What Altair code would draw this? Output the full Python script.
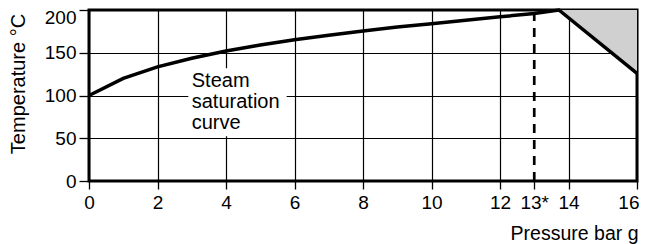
import altair as alt
import pandas as pd

# Steam saturation curve and limiting line (pressure bar g, temperature °C)
curve_p = [0, 1, 2, 3, 4, 5, 6, 7, 8, 9, 10, 11, 12, 13, 13.72, 16]
curve_t = [100, 120, 133.5, 143.6, 152, 159, 165.3, 170.5, 175.5, 180, 184, 188, 192, 196, 200, 125.8]

# Shaded region above the limiting line
shade_p = [13.72, 16]
shade_t = [200, 125.8]

# Marked pressure (dashed)
marker_p = [13]

x_ticks = [0, 2, 4, 6, 8, 10, 12, 13, 14, 16]
y_ticks = [0, 50, 100, 150, 200]

label_lines = ["Steam", "saturation", "curve"]
label_box = {"x": 2.9, "x2": 5.77, "y": 52.4, "y2": 132}
label_pos = {"x": 3.0, "y": 110}

FONT = "Liberation Sans"
W, H = 548, 171

curve_df = pd.DataFrame({"p": curve_p, "t": curve_t})
shade_df = pd.DataFrame({"p": shade_p, "t": shade_t, "top": [200] * len(shade_p)})
marker_df = pd.DataFrame({"p": marker_p, "t0": [0], "t1": [200]})
box_df = pd.DataFrame([label_box])
text_df = pd.DataFrame([{"x": label_pos["x"], "y": label_pos["y"], "txt": label_lines}])

xscale = alt.Scale(domain=[0, 16], nice=False, zero=False)
yscale = alt.Scale(domain=[0, 200], nice=False)

xaxis = alt.Axis(
    values=x_ticks,
    labelExpr="datum.value == 13 ? '13*' : datum.label",
    title="Pressure bar g",
    grid=True,
    gridColor="black",
    gridWidth=1.2,
    gridOpacity={"condition": {"test": "datum.value == 13", "value": 0}, "value": 1},
    domain=False,
    tickColor="black",
    tickWidth=1.3,
    tickSize=8,
    labelPadding=4,
    labelFont=FONT,
    labelFontSize=19,
    labelColor="black",
    labelFlush=False,
    labelOverlap=False,
    labelAlign={"condition": {"test": "datum.value == 16", "value": "right"}, "value": "center"},
    labelOffset={"condition": {"test": "datum.value == 16", "value": 2}, "value": 0},
    titleFont=FONT,
    titleFontSize=19.5,
    titleFontWeight="normal",
    titleColor="black",
    titleAlign="right",
    titleBaseline="alphabetic",
    titleX=W + 1,
    titleY=58,
)

yaxis = alt.Axis(
    values=y_ticks,
    title="Temperature °C",
    grid=True,
    gridColor="black",
    gridWidth=1.2,
    domain=False,
    tickColor="black",
    tickWidth=1.3,
    tickSize=10,
    labelPadding=3,
    labelFont=FONT,
    labelFontSize=19,
    labelColor="black",
    labelFlush=False,
    labelOffset={"condition": {"test": "datum.value == 200", "value": 7.5}, "value": 0},
    titleFont=FONT,
    titleFontSize=20,
    titleFontWeight="normal",
    titleColor="black",
    titleAngle=270,
    titleAlign="center",
    titleBaseline="alphabetic",
    titleX=-65,
    titleY=73.5,
)

base_axes = alt.Chart(curve_df).mark_line(opacity=0).encode(
    x=alt.X("p:Q", scale=xscale, axis=xaxis),
    y=alt.Y("t:Q", scale=yscale, axis=yaxis),
)

box = alt.Chart(box_df).mark_rect(color="white").encode(
    x=alt.X("x:Q", scale=xscale), x2="x2:Q",
    y=alt.Y("y:Q", scale=yscale), y2="y2:Q",
)

label = alt.Chart(text_df).mark_text(
    align="left", baseline="alphabetic", font=FONT, fontSize=20,
    lineHeight=21, color="black",
).encode(
    x=alt.X("x:Q", scale=xscale),
    y=alt.Y("y:Q", scale=yscale),
    text="txt",
)

shade = alt.Chart(shade_df).mark_area(color="#d0d0d0", opacity=1).encode(
    x=alt.X("p:Q", scale=xscale),
    y=alt.Y("t:Q", scale=yscale),
    y2="top:Q",
)

marker = alt.Chart(marker_df).mark_rule(
    color="black", strokeWidth=2.7, strokeDash=[9, 7]
).encode(
    x=alt.X("p:Q", scale=xscale),
    y=alt.Y("t0:Q", scale=yscale),
    y2="t1:Q",
)

line = alt.Chart(curve_df).mark_line(color="black", strokeWidth=3.5, strokeJoin="miter").encode(
    x=alt.X("p:Q", scale=xscale),
    y=alt.Y("t:Q", scale=yscale),
    order=alt.Order("p:Q"),
)

chart = alt.layer(base_axes, box, label, shade, marker, line).properties(
    width=W,
    height=H,
    background="white",
    autosize=alt.AutoSizeParams(type="none"),
    padding={"left": 81, "top": 2, "right": 2, "bottom": 63},
).configure_view(
    stroke="black", strokeWidth=3
)

chart.save("out.html", embed_options={"renderer": "svg", "actions": False})
